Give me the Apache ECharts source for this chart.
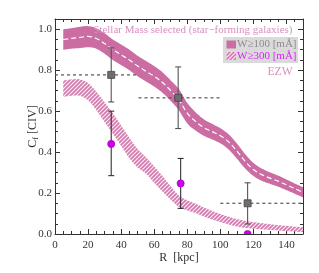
<!DOCTYPE html>
<html><head><meta charset="utf-8">
<script src="https://cdn.jsdelivr.net/npm/echarts@6/dist/echarts.min.js"></script>
<style>html,body{margin:0;padding:0;background:#fff}#c{width:319px;height:273px}</style>
</head><body><div id="c"></div>
<script>
// ---- data ----
const radius = [5,10,15,20,25,30,35,40,45,50,55,60,65,70,75,80,85,90,95,100,105,110,115,120,125,130,135,140,145,150];
// W>=100 (solid band)
const w100Center = [.95,.955,.96,.965,.955,.93,.90,.875,.85,.82,.795,.77,.74,.70,.655,.59,.55,.52,.50,.48,.45,.405,.355,.315,.29,.273,.258,.24,.222,.203];
const w100Upper  = [1.00,1.005,1.012,1.015,1.005,.98,.95,.925,.90,.87,.845,.82,.79,.75,.707,.64,.595,.56,.538,.517,.487,.442,.39,.347,.32,.301,.285,.266,.247,.228];
const w100Lower  = [.90,.905,.908,.912,.905,.88,.85,.825,.80,.77,.745,.72,.69,.65,.603,.54,.505,.48,.462,.443,.413,.368,.32,.283,.26,.245,.231,.214,.197,.178];
// W>=300 (hatched band)
const w300Upper  = [.75,.755,.755,.737,.695,.643,.59,.53,.47,.415,.375,.33,.283,.233,.188,.165,.148,.13,.113,.098,.085,.073,.064,.058,.053,.048,.043,.04,.036,.033];
const w300Lower  = [.67,.675,.675,.653,.605,.547,.49,.43,.37,.325,.295,.25,.207,.167,.132,.115,.102,.086,.071,.058,.047,.037,.03,.026,.023,.02,.017,.014,.012,.009];
// measured points, W>=100 (grey squares)
const sqR    = [34, 74.5, 116.5];
const sqC    = [0.777, 0.665, 0.15];
const sqLo   = [0.645, 0.515, 0.049];
const sqHi   = [0.909, 0.816, 0.25];
const sqRlo  = [0, 50.5, 100];
const sqRhi  = [50.5, 100, 150];
// measured points, W>=300 (purple dots)
const dotR   = [34, 76, 116.5];
const dotC   = [0.44, 0.247, 0.0];
const dotLo  = [0.285, 0.125, 0.0];
const dotHi  = [0.60, 0.369, 0.0];
// ticks
const xTicks = {min: 0, max: 150, interval: 20};
const yTicks = {min: 0, max: 1.05, interval: 0.2};

// ---- styling ----
const PINK = '#cb6ca2';
const FONT = '"Liberation Serif","DejaVu Serif",serif';
const pat = document.createElement('canvas');
pat.width = 4; pat.height = 4;
(function(){
  const g = pat.getContext('2d');
  g.fillStyle = '#d27cae'; g.fillRect(0,0,4,4);
  g.strokeStyle = 'rgba(255,255,255,0.9)'; g.lineWidth = 1.1;
  g.beginPath(); g.moveTo(-1,5); g.lineTo(5,-1); g.moveTo(-1,1); g.lineTo(1,-1); g.moveTo(3,5); g.lineTo(5,3); g.stroke();
})();
const HATCH = {image: pat, repeat: 'repeat'};

const pairs = (xs, ys) => xs.map((x,i)=>[x, ys[i]]);

// Catmull-Rom smoothing of screen points
function smoothPts(pts) {
  const out = [];
  const n = pts.length;
  for (let i = 0; i < n - 1; i++) {
    const p0 = pts[Math.max(0, i-1)], p1 = pts[i], p2 = pts[i+1], p3 = pts[Math.min(n-1, i+2)];
    for (let s = 0; s < 8; s++) {
      const t = s / 8, t2 = t*t, t3 = t2*t;
      out.push([0,1].map(k => 0.5*((2*p1[k]) + (-p0[k]+p2[k])*t + (2*p0[k]-5*p1[k]+4*p2[k]-p3[k])*t2 + (-p0[k]+3*p1[k]-3*p2[k]+p3[k])*t3)));
    }
  }
  out.push(pts[n-1]);
  return out;
}
function bandRender(fill) {
  return (params, api) => {
    if (params.dataIndexInside !== 0) return null;
    const n = params.dataInsideLength;
    const up = [], lo = [];
    for (let i = 0; i < n; i++) {
      const x = api.value(0, i);
      up.push(api.coord([x, api.value(2, i)]));
      lo.push(api.coord([x, api.value(1, i)]));
    }
    const pts = smoothPts(up).concat(smoothPts(lo).reverse());
    return {type: 'polygon', shape: {points: pts}, style: {fill: fill, stroke: null}};
  };
}

const chart = echarts.init(document.getElementById('c'), null, {renderer: 'canvas'});
const axisCommon = {
  axisLine: {show: true, onZero: false, lineStyle: {color: '#333', width: 1}},
  axisTick: {show: true, inside: true, length: 5, lineStyle: {color: '#333'}},
  minorTick: {show: true, splitNumber: 4, length: 3, lineStyle: {color: '#333'}},
  splitLine: {show: false}
};
chart.setOption({
  animation: false,
  grid: {left: 55, right: 16, top: 19, bottom: 39, containLabel: false},
  xAxis: [
    Object.assign({type: 'value', position: 'bottom', min: xTicks.min, max: xTicks.max, interval: xTicks.interval,
      axisLabel: {color: '#333', fontFamily: FONT, fontSize: 11, margin: 6, showMaxLabel: false},
      name: 'R  [kpc]', nameLocation: 'middle', nameGap: 18, nameMoveOverlap: false,
      nameTextStyle: {color: '#333', fontFamily: FONT, fontSize: 12}}, axisCommon),
    Object.assign({type: 'value', position: 'top', min: xTicks.min, max: xTicks.max, interval: xTicks.interval,
      axisLabel: {show: false}}, axisCommon)
  ],
  yAxis: [
    Object.assign({type: 'value', position: 'left', min: yTicks.min, max: yTicks.max, interval: yTicks.interval,
      axisLabel: {color: '#333', fontFamily: FONT, fontSize: 11, margin: 3, showMaxLabel: false,
        formatter: v => v.toFixed(1)},
      name: '{a|C}{b|f}{a| [CIV]}', nameLocation: 'middle', nameGap: 15, nameRotate: 90, nameMoveOverlap: false,
      nameTextStyle: {rich: {a: {color: '#333', fontFamily: FONT, fontSize: 12}, b: {color: '#333', fontFamily: FONT, fontSize: 8, verticalAlign: 'bottom', padding: [6,0,0,0]}}}}, axisCommon),
    Object.assign({type: 'value', position: 'right', min: yTicks.min, max: yTicks.max, interval: yTicks.interval,
      axisLabel: {show: false}}, axisCommon)
  ],
  series: [
    {type: 'custom', z: 1, clip: true, silent: true,
      data: radius.map((r,i)=>[r, w100Lower[i], w100Upper[i]]), encode: {x: 0, y: [1,2]},
      renderItem: bandRender(PINK)},
    {type: 'line', data: pairs(radius, w100Center), smooth: 0.35, symbol: 'none',
      lineStyle: {color: '#fff', width: 1.2, type: [5,3]}, z: 2},
    {type: 'custom', z: 1, clip: true, silent: true,
      data: radius.map((r,i)=>[r, w300Lower[i], w300Upper[i]]), encode: {x: 0, y: [1,2]},
      renderItem: bandRender(HATCH)},
    // horizontal bin ranges
    {type: 'custom', z: 3, clip: true,
      data: sqR.map((x,i)=>[sqRlo[i], sqRhi[i], sqC[i]]),
      encode: {x: [0,1], y: 2},
      renderItem: (p, api) => {
        const a = api.coord([api.value(0), api.value(2)]), b = api.coord([api.value(1), api.value(2)]);
        return {type: 'line', shape: {x1: a[0], y1: a[1], x2: b[0], y2: b[1]},
          style: {stroke: '#555', lineWidth: 1.2, lineDash: [3,3]}};
      }},
    // error bars squares
    {type: 'custom', z: 4, clip: true,
      data: sqR.map((x,i)=>[x, sqLo[i], sqHi[i]]),
      encode: {x: 0, y: [1,2]},
      renderItem: (p, api) => {
        const a = api.coord([api.value(0), api.value(1)]), b = api.coord([api.value(0), api.value(2)]);
        const st = {stroke: '#555', lineWidth: 1.1};
        return {type: 'group', children: [
          {type: 'line', shape: {x1: a[0], y1: a[1], x2: b[0], y2: b[1]}, style: st},
          {type: 'line', shape: {x1: a[0]-3, y1: a[1], x2: a[0]+3, y2: a[1]}, style: st},
          {type: 'line', shape: {x1: b[0]-3, y1: b[1], x2: b[0]+3, y2: b[1]}, style: st}
        ]};
      }},
    // error bars dots
    {type: 'custom', z: 4, clip: true,
      data: dotR.map((x,i)=>[x, dotLo[i], dotHi[i]]),
      encode: {x: 0, y: [1,2]},
      renderItem: (p, api) => {
        const a = api.coord([api.value(0), api.value(1)]), b = api.coord([api.value(0), api.value(2)]);
        if (Math.abs(a[1]-b[1]) < 1) return null;
        const st = {stroke: '#333', lineWidth: 1.1};
        return {type: 'group', children: [
          {type: 'line', shape: {x1: a[0], y1: a[1], x2: b[0], y2: b[1]}, style: st},
          {type: 'line', shape: {x1: a[0]-3, y1: a[1], x2: a[0]+3, y2: a[1]}, style: st},
          {type: 'line', shape: {x1: b[0]-3, y1: b[1], x2: b[0]+3, y2: b[1]}, style: st}
        ]};
      }},
    // squares
    {type: 'custom', z: 5, clip: true,
      data: pairs(sqR, sqC), encode: {x: 0, y: 1},
      renderItem: (p, api) => {
        const c = api.coord([api.value(0), api.value(1)]);
        return {type: 'rect', shape: {x: c[0]-3.5, y: c[1]-3.5, width: 7, height: 7},
          style: {fill: '#6e6e6e', stroke: '#444', lineWidth: 0.8}};
      }},
    // dots
    {type: 'custom', z: 5, clip: true,
      data: pairs(dotR, dotC), encode: {x: 0, y: 1},
      renderItem: (p, api) => {
        const c = api.coord([api.value(0), api.value(1)]);
        return {type: 'circle', shape: {cx: c[0], cy: c[1], r: 3.6},
          style: {fill: '#cc00ee', stroke: '#9a00b8', lineWidth: 0.6}};
      }}
  ],
  graphic: [
    {type: 'text', right: 319-292.5, top: 24.5, style: {text: 'Stellar Mass selected (star\u2212forming galaxies)', fill: '#d98fc0', font: '11px ' + FONT}, z: 10},
    {type: 'rect', shape: {x: 223, y: 37, width: 75, height: 26}, style: {fill: '#dadada'}, z: 10},
    {type: 'rect', shape: {x: 226.5, y: 40.5, width: 9.5, height: 8}, style: {fill: PINK}, z: 11},
    {type: 'text', x: 237, y: 44.5, style: {text: 'W\u2265100 [m\u00c5]', fill: '#8c8c8c', font: '11px ' + FONT, verticalAlign: 'middle'}, z: 11},
    {type: 'rect', shape: {x: 226.5, y: 52, width: 9.5, height: 8}, style: {fill: HATCH}, z: 11},
    {type: 'text', x: 237, y: 56, style: {text: 'W\u2265300 [m\u00c5]', fill: '#dd22ff', font: '11px ' + FONT, verticalAlign: 'middle'}, z: 11},
    {type: 'text', right: 319-292.5, top: 66, style: {text: 'EZW', fill: '#d98fc0', font: '11.5px ' + FONT}, z: 10}
  ]
});
</script></body></html>
